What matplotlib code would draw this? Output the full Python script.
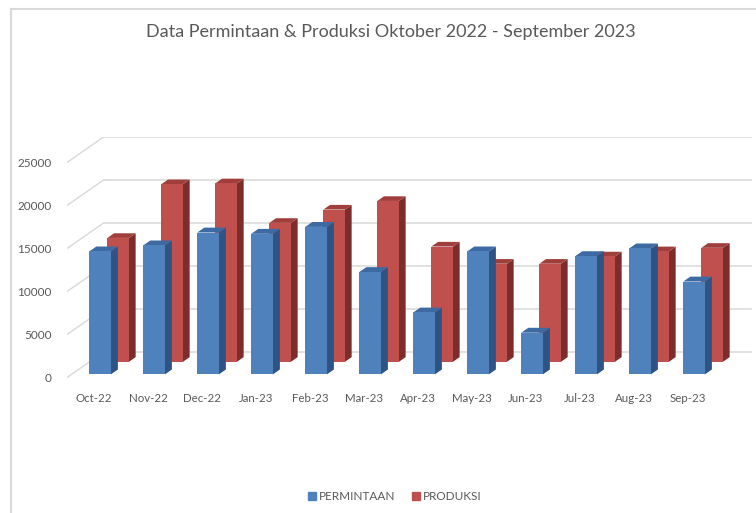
import numpy as np
import matplotlib
matplotlib.use("Agg")
import matplotlib.pyplot as plt
from matplotlib.patches import Polygon
from matplotlib.lines import Line2D

plt.rcParams['font.family'] = ['Lato', 'DejaVu Sans']

months = ["Oct-22", "Nov-22", "Dec-22", "Jan-23", "Feb-23", "Mar-23",
          "Apr-23", "May-23", "Jun-23", "Jul-23", "Aug-23", "Sep-23"]
permintaan = [14300, 15000, 16500, 16350, 17150, 11900, 7200, 14300, 4850, 13750, 14650, 10800]
produksi = [14400, 20650, 20750, 16150, 17700, 18700, 13400, 11400, 11400, 12250, 12850, 13250]
y_ticks = [0, 5000, 10000, 15000, 20000, 25000]

# oblique "3d" offsets for a full depth step (data units)
DX = 0.685
DY = 3000
BAR_W = 0.40

blue = {"front": "#4f81bd", "side": "#2f5483", "top": "#3d6aa3"}
red = {"front": "#c0504d", "side": "#7c2d2b", "top": "#9f3e3b"}
text_col = "#595959"
grid_col = "#d9d9d9"


def draw_bar(ax, x, v, d0, d1, cols):
    """Front, side and top faces of one column."""
    xr = x + BAR_W
    front = [(x + d0 * DX, d0 * DY), (xr + d0 * DX, d0 * DY),
             (xr + d0 * DX, v + d0 * DY), (x + d0 * DX, v + d0 * DY)]
    side = [(xr + d0 * DX, d0 * DY), (xr + d1 * DX, d1 * DY),
            (xr + d1 * DX, v + d1 * DY), (xr + d0 * DX, v + d0 * DY)]
    top = [(x + d0 * DX, v + d0 * DY), (xr + d0 * DX, v + d0 * DY),
           (xr + d1 * DX, v + d1 * DY), (x + d1 * DX, v + d1 * DY)]
    ax.add_patch(Polygon(side, closed=True, facecolor=cols["side"], edgecolor="none", zorder=3))
    ax.add_patch(Polygon(top, closed=True, facecolor=cols["top"], edgecolor="none", zorder=3))
    ax.add_patch(Polygon(front, closed=True, facecolor=cols["front"], edgecolor="none", zorder=3))


fig = plt.figure(figsize=(7.56, 5.13), dpi=100)
ax = fig.add_axes([67 / 756, 1 - 377.5 / 513, 685 / 756, 240.8 / 513])
n = len(months)
ax.set_xlim(0, n + DX)
ax.set_ylim(0, y_ticks[-1] + DY)

# walls: back gridlines and side diagonals
for t in y_ticks:
    ax.plot([DX, n + DX], [t + DY, t + DY], color=grid_col, lw=1.1, zorder=1)
    ax.plot([0, DX], [t, t + DY], color=grid_col, lw=1.0, zorder=1)

# back series first, then front series
for i, v in enumerate(produksi):
    draw_bar(ax, i + 0.33, v, 0.61, 0.79, red)
for i, v in enumerate(permintaan):
    draw_bar(ax, i + 0.33, v, 0.12, 0.31, blue)

for s in ax.spines.values():
    s.set_visible(False)
ax.set_xticks(np.arange(n) + 0.5)
ax.set_xticklabels(months)
ax.set_yticks(y_ticks)
ax.set_yticklabels([str(t) for t in y_ticks])
ax.tick_params(axis="x", length=0, pad=11, labelsize=8.3, labelcolor=text_col)
ax.tick_params(axis="y", length=0, pad=11, labelsize=8.5, labelcolor=text_col)

fig.text(391 / 756, 1 - 32 / 513, "Data Permintaan & Produksi Oktober 2022 - September 2023",
         ha="center", va="center", fontsize=13, color=text_col)

handles = [Line2D([], [], marker="s", color=blue["front"], linestyle="none", markersize=6),
           Line2D([], [], marker="s", color=red["front"], linestyle="none", markersize=6)]
fig.legend(handles, ["PERMINTAAN", "PRODUKSI"], loc="center",
           bbox_to_anchor=(394 / 756, 1 - 497 / 513), ncol=2, frameon=False,
           fontsize=8.5, labelcolor=text_col, handletextpad=0.1, columnspacing=1.2,
           handlelength=1.0)

# chart area border (cropped on the right and bottom)
fig.add_artist(Line2D([11 / 756, 1], [1 - 9 / 513, 1 - 9 / 513], color=grid_col, lw=1.5))
fig.add_artist(Line2D([11 / 756, 11 / 756], [0, 1 - 9 / 513], color=grid_col, lw=1.5))

fig.savefig("out.png", dpi=100)
